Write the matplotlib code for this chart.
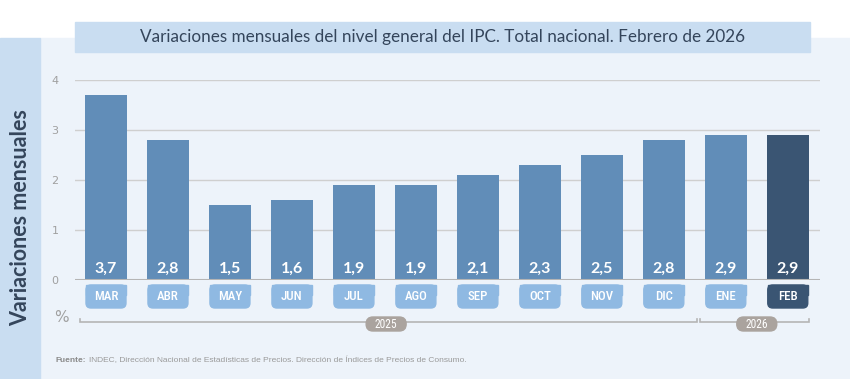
import matplotlib
matplotlib.use("Agg")
from matplotlib import pyplot
from matplotlib.patches import Rectangle, FancyBboxPatch

months = ["MAR", "ABR", "MAY", "JUN", "JUL", "AGO", "SEP", "OCT", "NOV", "DIC", "ENE", "FEB"]
values = [3.7, 2.8, 1.5, 1.6, 1.9, 1.9, 2.1, 2.3, 2.5, 2.8, 2.9, 2.9]
value_labels = ["3,7", "2,8", "1,5", "1,6", "1,9", "1,9", "2,1", "2,3", "2,5", "2,8", "2,9", "2,9"]
years = ["2025", "2026"]
yticks = [0, 1, 2, 3, 4]

title = "Variaciones mensuales del nivel general del IPC. Total nacional. Febrero de 2026"
source = "INDEC, Dirección Nacional de Estadísticas de Precios. Dirección de Índices de Precios de Consumo."

bar_color = "#618db8"
last_color = "#3a5573"
box_color = "#8fb9e2"
pill_color = "#aaa39e"
text_dark = "#34455b"
condensed = ["Roboto Condensed", "Roboto", "DejaVu Sans"]

W, H = 850, 379
fig = pyplot.figure(figsize=(W / 100, H / 100), dpi=100)
fig.patch.set_facecolor("white")


def px(x0, y0, w, h):
    # pixel box (top-left origin) -> figure fraction
    return x0 / W, 1 - (y0 + h) / H, w / W, h / H


def add_rect(x0, y0, w, h, color):
    x, y, w, h = px(x0, y0, w, h)
    fig.patches.append(Rectangle((x, y), w, h, transform=fig.transFigure, color=color, zorder=-5))


add_rect(40, 38, 810, 341, "#edf3fa")
add_rect(0, 38, 40, 341, "#c9ddf1")
add_rect(75, 22, 735, 30, "#c9ddf1")

fig.text(443 / W, 1 - 37 / H, title, ha="center", va="center", fontsize=12.3,
         color=text_dark, family="Lato")
fig.text(21 / W, 1 - 218 / H, "Variaciones mensuales", rotation=90, ha="center", va="center",
         fontsize=15.5, fontweight="bold", color=text_dark, family="Lato")
fig.text(55 / W, 1 - 360 / H, "Fuente:", ha="left", va="center", fontsize=6,
         fontweight="bold", color="#8a8a8a", family="Liberation Sans")
fig.text(89 / W, 1 - 360 / H, source, ha="left", va="center", fontsize=6, color="#9a9a9a",
         family="Liberation Sans")

ax = fig.add_axes(px(75, 80, 745, 200))
ax.set_zorder(2)
ax.set_facecolor("none")
idx = list(range(len(months)))
colors = [bar_color] * (len(months) - 1) + [last_color]
ax.bar(idx, values, width=42 / 62, color=colors, zorder=3)
ax.set_xlim(-0.5, 11.52)
ax.set_ylim(0, 4)

for t in yticks[1:]:
    ax.axhline(t, color="#cfcfcf", lw=1, zorder=1)
ax.axhline(0, color="#b5b5b5", lw=1.5, zorder=4)
for s in ax.spines.values():
    s.set_visible(False)
ax.set_xticks([])
ax.set_yticks(yticks)
ax.tick_params(axis="y", length=0, pad=12, labelsize=8, labelcolor="#a0a0a0")

bw = 40 / 62
asp = 62 / 50
for i, lab in enumerate(value_labels):
    ax.text(i, 0.23, lab, ha="center", va="center", color="white", fontsize=11.5,
            fontweight="bold", zorder=5, family="Lato")
    c = last_color if i == len(months) - 1 else box_color
    # rounded bottom, square top
    ax.add_patch(FancyBboxPatch((i - bw / 2, -0.56), bw, 0.46,
                                boxstyle="round,pad=0,rounding_size=0.08", mutation_aspect=asp,
                                color=c, clip_on=False, zorder=3))
    ax.add_patch(Rectangle((i - bw / 2, -0.3), bw, 0.2, color=c, clip_on=False, zorder=3))
    ax.text(i, -0.34, months[i], ha="center", va="center", color="white", fontsize=9.3,
            fontweight="medium", zorder=5, family=condensed)

ax.text(-0.72, -0.76, "%", ha="center", va="center", fontsize=11, color="#a0a0a0", clip_on=False)

brackets = [(-0.42, 9.53), (9.58, 11.35)]
pill_x = [4.52, 10.5]
pw, ph = 40 / 62, 14 / 50
for (a, b), yr, cx in zip(brackets, years, pill_x):
    ax.plot([a, a, b, b], [-0.78, -0.84, -0.84, -0.78], color="#b5b5b5", lw=1.2,
            clip_on=False, zorder=2, solid_joinstyle="miter")
    ax.add_patch(FancyBboxPatch((cx - pw / 2, -0.88 - ph / 2), pw, ph,
                                boxstyle="round,pad=0,rounding_size=0.11", mutation_aspect=asp,
                                color=pill_color, clip_on=False, zorder=4))
    ax.text(cx, -0.88, yr, ha="center", va="center", color="white", fontsize=8.3, zorder=5,
            family=condensed)

fig.savefig("out.png", dpi=100)
